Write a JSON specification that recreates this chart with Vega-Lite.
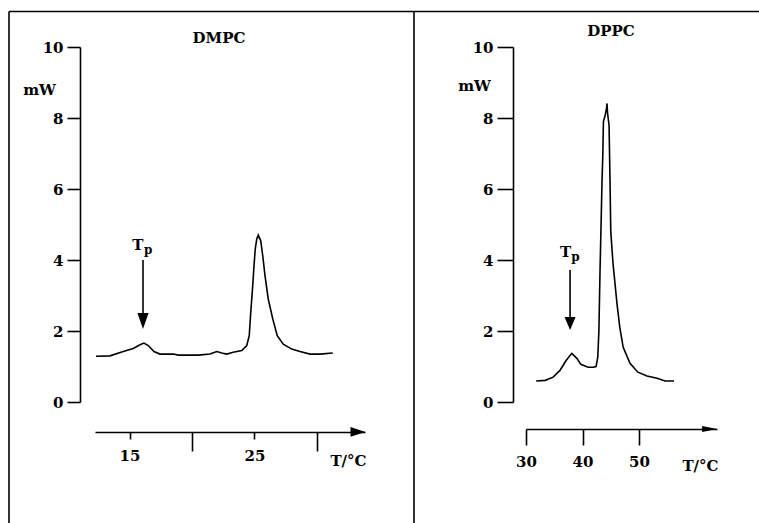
{
  "$schema": "https://vega.github.io/schema/vega-lite/v6.json",
  "padding": {"left": 8, "top": 10, "right": 0, "bottom": 0},
  "background": "white",
  "bounds": "flush",
  "spacing": 161,
  "config": {
    "view": {"stroke": null},
    "font": "DejaVu Serif",
    "axis": {
      "labelFont": "DejaVu Serif", "labelFontWeight": "bold", "labelFontSize": 15, "labelColor": "black",
      "domainColor": "black", "tickColor": "black", "domainWidth": 1.6, "tickWidth": 1.6, "grid": false,
      "titleFont": "DejaVu Serif", "titleFontWeight": "bold", "titleFontSize": 15, "titleColor": "black",
      "labelOverlap": false, "labelFlush": false
    },
    "text": {"font": "DejaVu Serif", "fontWeight": "bold", "color": "black"}
  },
  "datasets": {
    "dmpc": [
      {"T": 12.32, "mW": 1.29}, {"T": 13.44, "mW": 1.30}, {"T": 14.5, "mW": 1.42}, {"T": 15.3, "mW": 1.51},
      {"T": 15.84, "mW": 1.61}, {"T": 16.16, "mW": 1.66}, {"T": 16.5, "mW": 1.59}, {"T": 16.96, "mW": 1.42},
      {"T": 17.44, "mW": 1.35}, {"T": 18.5, "mW": 1.35}, {"T": 18.9, "mW": 1.32}, {"T": 20.5, "mW": 1.32},
      {"T": 21.44, "mW": 1.35}, {"T": 21.98, "mW": 1.42}, {"T": 22.38, "mW": 1.38}, {"T": 22.78, "mW": 1.35},
      {"T": 23.3, "mW": 1.40}, {"T": 23.98, "mW": 1.45}, {"T": 24.38, "mW": 1.59}, {"T": 24.58, "mW": 1.87},
      {"T": 24.7, "mW": 2.53}, {"T": 24.86, "mW": 3.28}, {"T": 24.96, "mW": 3.84}, {"T": 25.06, "mW": 4.31},
      {"T": 25.18, "mW": 4.59}, {"T": 25.3, "mW": 4.70}, {"T": 25.5, "mW": 4.54}, {"T": 25.66, "mW": 4.12},
      {"T": 25.84, "mW": 3.56}, {"T": 26.1, "mW": 2.90}, {"T": 26.46, "mW": 2.34}, {"T": 26.82, "mW": 1.87},
      {"T": 27.3, "mW": 1.63}, {"T": 27.98, "mW": 1.49}, {"T": 28.64, "mW": 1.42}, {"T": 29.44, "mW": 1.35},
      {"T": 30.24, "mW": 1.35}, {"T": 31.26, "mW": 1.38}
    ],
    "dppc": [
      {"T": 31.8, "mW": 0.59}, {"T": 33.4, "mW": 0.61}, {"T": 34.8, "mW": 0.70}, {"T": 36.0, "mW": 0.89},
      {"T": 37.1, "mW": 1.17}, {"T": 38.1, "mW": 1.37}, {"T": 39.0, "mW": 1.23}, {"T": 39.7, "mW": 1.06},
      {"T": 41.0, "mW": 0.98}, {"T": 41.9, "mW": 0.98}, {"T": 42.4, "mW": 1.0}, {"T": 42.7, "mW": 1.26},
      {"T": 42.9, "mW": 2.0}, {"T": 43.1, "mW": 3.7}, {"T": 43.3, "mW": 5.1}, {"T": 43.45, "mW": 6.2},
      {"T": 43.6, "mW": 7.0}, {"T": 43.7, "mW": 7.9}, {"T": 44.0, "mW": 8.07}, {"T": 44.25, "mW": 8.27},
      {"T": 44.34, "mW": 8.41}, {"T": 44.42, "mW": 8.16}, {"T": 44.7, "mW": 7.79}, {"T": 44.87, "mW": 6.2},
      {"T": 45.0, "mW": 4.8}, {"T": 45.4, "mW": 3.9}, {"T": 46.1, "mW": 2.77}, {"T": 46.6, "mW": 2.1},
      {"T": 47.2, "mW": 1.54}, {"T": 48.4, "mW": 1.09}, {"T": 49.8, "mW": 0.84}, {"T": 51.4, "mW": 0.73},
      {"T": 53.2, "mW": 0.67}, {"T": 54.6, "mW": 0.59}, {"T": 56.2, "mW": 0.59}
    ],
    "one": [{}]
  },
  "hconcat": [
    {
      "width": 270,
      "height": 355,
      "layer": [
        {
          "data": {"name": "dmpc"},
          "mark": {"type": "line", "color": "black", "strokeWidth": 1.6},
          "encoding": {
            "x": {
              "field": "T", "type": "quantitative",
              "scale": {"domain": [12.24, 33.84], "nice": false, "zero": false},
              "axis": {
                "orient": "bottom", "offset": 30, "values": [15, 20, 25, 30],
                "tickSize": {"condition": {"test": "datum.value == 20 || datum.value == 30", "value": 19}, "value": 7},
                "labelExpr": "datum.value == 15 || datum.value == 25 ? datum.label : ''",
                "labelPadding": 9,
                "title": "T/°C", "titleAngle": 0, "titleX": 253, "titleY": 28,
                "titleAlign": "center", "titleBaseline": "middle"
              }
            },
            "y": {
              "field": "mW", "type": "quantitative",
              "scale": {"domain": [0, 10], "nice": false, "zero": false},
              "axis": {
                "orient": "left", "offset": 15, "values": [0, 2, 4, 6, 8, 10],
                "tickSize": 13, "labelPadding": 4,
                "title": "mW", "titleAngle": 0, "titleX": -41, "titleY": 42,
                "titleAlign": "center", "titleBaseline": "middle"
              }
            }
          }
        },
        {
          "data": {"name": "one"},
          "mark": {"type": "rule", "color": "black", "strokeWidth": 1.6},
          "encoding": {"x": {"datum": 16.08}, "y": {"datum": 4.0}, "y2": {"datum": 2.4}}
        },
        {
          "data": {"name": "one"},
          "mark": {"type": "point", "shape": "M-0.7,-1L0.7,-1L0,1Z", "filled": true, "color": "black", "opacity": 1, "size": 256, "strokeWidth": 0},
          "encoding": {"x": {"datum": 16.08}, "y": {"datum": 2.28}}
        },
        {
          "data": {"name": "one"},
          "mark": {"type": "text", "text": "T", "fontSize": 15, "baseline": "middle", "align": "center"},
          "encoding": {"x": {"datum": 15.66}, "y": {"datum": 4.42}}
        },
        {
          "data": {"name": "one"},
          "mark": {"type": "text", "text": "p", "fontSize": 12, "baseline": "middle", "align": "center"},
          "encoding": {"x": {"datum": 16.5}, "y": {"datum": 4.28}}
        },
        {
          "data": {"name": "one"},
          "mark": {"type": "text", "text": "DMPC", "fontSize": 15, "baseline": "middle", "align": "center"},
          "encoding": {"x": {"datum": 22.16}, "y": {"datum": 10.25}}
        },
        {
          "data": {"name": "one"},
          "mark": {"type": "point", "shape": "M-1,-0.65L1,0L-1,0.65Z", "filled": true, "color": "black", "opacity": 1, "size": 225, "strokeWidth": 0},
          "encoding": {"x": {"datum": 33.28}, "y": {"datum": -0.845}}
        },
        {
          "data": {"name": "one"},
          "mark": {"type": "rule", "color": "black", "strokeWidth": 1.6},
          "encoding": {"x": {"datum": 5.36}, "y": {"datum": 11.0}, "y2": {"datum": -3.5}}
        },
        {
          "data": {"name": "one"},
          "mark": {"type": "rule", "color": "black", "strokeWidth": 1.6},
          "encoding": {"x": {"datum": 5.36}, "x2": {"datum": 37.76}, "y": {"datum": 11.0}}
        }
      ]
    },
    {
      "width": 191,
      "height": 355,
      "layer": [
        {
          "data": {"name": "dppc"},
          "mark": {"type": "line", "color": "black", "strokeWidth": 1.6},
          "encoding": {
            "x": {
              "field": "T", "type": "quantitative",
              "scale": {"domain": [30, 63.8], "nice": false, "zero": false},
              "axis": {
                "orient": "bottom", "offset": 27, "values": [30, 35, 40, 45, 50, 55],
                "tickSize": {"condition": {"test": "datum.value == 30 || datum.value == 40 || datum.value == 50", "value": 16}, "value": 8},
                "labelExpr": "datum.value == 30 || datum.value == 40 || datum.value == 50 ? datum.label : ''",
                "labelPadding": 9,
                "title": "T/°C", "titleAngle": 0, "titleX": 174, "titleY": 36,
                "titleAlign": "center", "titleBaseline": "middle"
              }
            },
            "y": {
              "field": "mW", "type": "quantitative",
              "scale": {"domain": [0, 10], "nice": false, "zero": false},
              "axis": {
                "orient": "left", "offset": 13, "values": [0, 2, 4, 6, 8, 10],
                "tickSize": 16, "labelPadding": 4,
                "title": "mW", "titleAngle": 0, "titleX": -39, "titleY": 38,
                "titleAlign": "center", "titleBaseline": "middle"
              }
            }
          }
        },
        {
          "data": {"name": "one"},
          "mark": {"type": "rule", "color": "black", "strokeWidth": 1.6},
          "encoding": {"x": {"datum": 37.8}, "y": {"datum": 3.72}, "y2": {"datum": 2.3}}
        },
        {
          "data": {"name": "one"},
          "mark": {"type": "point", "shape": "M-0.85,-1L0.85,-1L0,1Z", "filled": true, "color": "black", "opacity": 1, "size": 169, "strokeWidth": 0},
          "encoding": {"x": {"datum": 37.8}, "y": {"datum": 2.21}}
        },
        {
          "data": {"name": "one"},
          "mark": {"type": "text", "text": "T", "fontSize": 15, "baseline": "middle", "align": "center"},
          "encoding": {"x": {"datum": 37.0}, "y": {"datum": 4.22}}
        },
        {
          "data": {"name": "one"},
          "mark": {"type": "text", "text": "p", "fontSize": 12, "baseline": "middle", "align": "center"},
          "encoding": {"x": {"datum": 38.76}, "y": {"datum": 4.08}}
        },
        {
          "data": {"name": "one"},
          "mark": {"type": "text", "text": "DPPC", "fontSize": 15, "baseline": "middle", "align": "center"},
          "encoding": {"x": {"datum": 45.04}, "y": {"datum": 10.45}}
        },
        {
          "data": {"name": "one"},
          "mark": {"type": "point", "shape": "M-1,-0.4L1,0L-1,0.4Z", "filled": true, "color": "black", "opacity": 1, "size": 225, "strokeWidth": 0},
          "encoding": {"x": {"datum": 62.5}, "y": {"datum": -0.76}}
        },
        {
          "data": {"name": "one"},
          "mark": {"type": "rule", "color": "black", "strokeWidth": 1.6},
          "encoding": {"x": {"datum": 10.18}, "y": {"datum": 11.0}, "y2": {"datum": -3.5}}
        },
        {
          "data": {"name": "one"},
          "mark": {"type": "rule", "color": "black", "strokeWidth": 1.6},
          "encoding": {"x": {"datum": 10.18}, "x2": {"datum": 73}, "y": {"datum": 11.0}}
        }
      ]
    }
  ]
}
